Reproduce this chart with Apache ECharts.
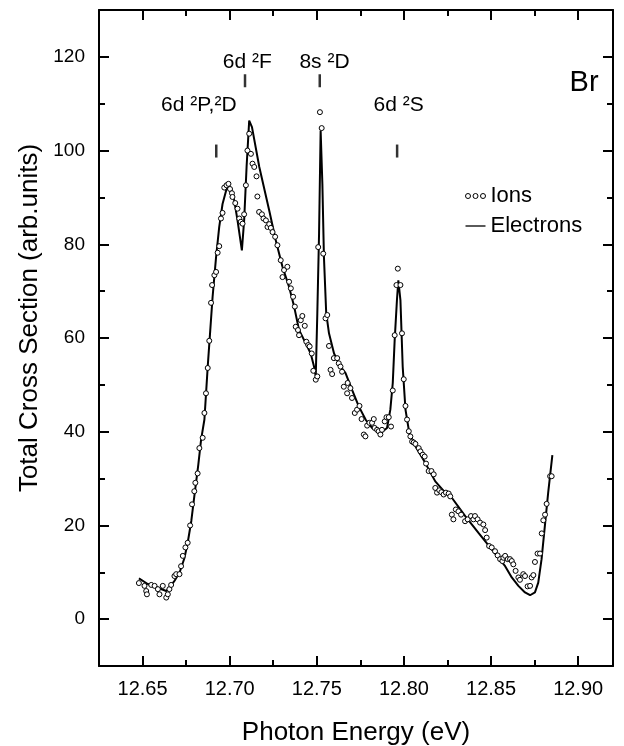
<!DOCTYPE html>
<html><head><meta charset="utf-8">
<script src="https://cdn.jsdelivr.net/npm/echarts@6/dist/echarts.min.js"></script>
<style>html,body{margin:0;padding:0;background:#fff}#c{width:624px;height:746px}</style>
</head><body><div id="c"></div>
<script>
// ---- Data ----
const electronsX = [12.6479,12.6530,12.6580,12.6636,12.6680,12.6712,12.6740,12.6759,12.6780,12.6797,12.6820,12.6836,12.6855,12.6874,12.6902,12.6922,12.6940,12.6959,12.6982,12.7007,12.7026,12.7045,12.7070,12.7083,12.7097,12.7112,12.7128,12.7170,12.7227,12.7264,12.7303,12.7341,12.7370,12.7398,12.7436,12.7465,12.7484,12.7494,12.7503,12.7513,12.7522,12.7532,12.7541,12.7554,12.7570,12.7599,12.7637,12.7665,12.7703,12.7741,12.7780,12.7817,12.7865,12.7903,12.7922,12.7936,12.7947,12.7960,12.7968,12.7980,12.7993,12.8009,12.8031,12.8066,12.8123,12.8180,12.8237,12.8275,12.8352,12.8428,12.8504,12.8581,12.8619,12.8657,12.8695,12.8724,12.8752,12.8771,12.8790,12.8809,12.8828,12.8852];
const electronsY = [8.7,7.5,6.8,6.0,8.0,9.9,13.0,16.3,21.0,26.2,33.0,38.3,42.6,53.9,68.8,77.3,83.7,88.6,91.8,91.8,89.4,85.1,78.7,85.1,96.5,106.4,105.0,96.5,87.2,80.9,75.2,70.9,66.7,61.7,58.9,56.7,53.9,51.8,65.3,82.3,104.3,92.9,77.3,65.3,61.0,56.7,53.9,52.5,48.9,45.4,42.6,40.8,39.7,40.8,44.7,50.4,59.6,68.1,72.3,68.1,53.9,44.7,39.7,36.9,33.3,29.4,27.0,25.9,22.0,18.4,14.9,11.3,8.9,7.1,5.7,5.1,5.7,7.8,12.8,19.9,27.0,35.0];

const ionsX = [12.6479,12.6511,12.6521,12.6525,12.6550,12.6569,12.6588,12.6597,12.6616,12.6636,12.6645,12.6654,12.6664,12.6683,12.6693,12.6712,12.6721,12.6731,12.6746,12.6759,12.6773,12.6784,12.6797,12.6803,12.6816,12.6826,12.6845,
12.6855,12.6864,12.6874,12.6883,12.6893,12.6899,12.6912,12.6922,12.6931,12.6940,12.6950,12.6959,12.6969,12.6982,12.6993,12.7002,12.7013,12.7016,12.7032,12.7045,12.7055,12.7064,12.7074,12.7083,12.7093,12.7102,12.7112,12.7122,12.7131,12.7141,12.7154,12.7159,12.7169,12.7185,12.7194,12.7208,12.7217,12.7227,12.7236,12.7246,12.7261,12.7274,
12.7293,12.7303,12.7312,12.7331,12.7341,12.7351,12.7364,12.7374,12.7379,12.7392,12.7398,12.7408,12.7417,12.7431,12.7440,12.7451,12.7459,12.7471,12.7480,12.7494,12.7503,12.7508,12.7518,12.7528,12.7537,12.7550,12.7560,12.7570,12.7579,12.7588,12.7598,12.7617,12.7626,12.7636,12.7645,12.7655,12.7674,12.7677,12.7693,12.7702,12.7718,12.7731,
12.7745,12.7757,12.7770,12.7779,12.7789,12.7802,12.7817,12.7827,12.7832,12.7846,12.7855,12.7865,12.7874,12.7890,12.7900,12.7913,12.7926,12.7936,12.7947,12.7957,12.7965,12.7980,12.7989,12.7999,12.8009,12.8018,12.8028,12.8037,12.8047,12.8056,12.8066,12.8085,12.8095,12.8108,12.8119,12.8127,12.8142,12.8158,12.8171,12.8180,12.8190,12.8203,12.8215,12.8228,12.8241,12.8257,12.8266,
12.8275,12.8284,12.8298,12.8313,12.8328,12.8351,12.8366,12.8385,12.8399,12.8408,12.8423,12.8437,12.8456,12.8466,12.8475,12.8489,12.8504,12.8523,12.8538,12.8552,12.8565,12.8571,12.8581,12.8596,12.8609,12.8619,12.8628,12.8641,12.8657,12.8666,12.8685,12.8695,12.8710,12.8724,12.8733,12.8743,12.8752,12.8767,12.8781,12.8791,12.8800,12.8810,12.8819,12.8839,12.8848];
const ionsY = [7.7,7.1,6.0,5.3,7.3,7.1,6.4,5.3,7.1,4.6,5.3,6.4,7.3,9.2,9.6,9.6,11.3,13.5,15.3,16.3,20.0,24.5,27.3,29.1,31.1,36.5,38.7,
44.0,48.2,53.6,59.4,67.5,71.3,73.4,74.1,78.2,79.6,85.5,86.7,92.1,92.6,92.9,91.8,90.9,90.1,88.8,87.6,85.5,84.8,84.4,86.4,92.6,100.0,103.6,99.3,97.2,96.5,94.5,90.2,86.9,86.4,85.5,85.1,83.7,84.3,83.5,82.6,81.6,79.8,
76.6,73.0,74.5,75.2,72.0,70.6,68.8,66.7,62.4,61.7,60.6,63.8,64.7,62.6,59.2,58.5,58.2,56.7,53.0,51.1,51.8,79.4,108.2,104.8,78.0,64.2,64.9,58.3,53.2,52.3,55.7,55.7,54.6,53.9,52.8,49.6,48.2,50.4,49.3,47.2,44.0,44.7,
45.5,42.7,39.4,39.0,41.3,41.9,41.9,42.7,40.8,40.4,40.1,39.4,40.4,42.2,43.1,43.1,41.1,48.8,60.6,71.3,74.8,71.3,61.0,51.2,45.5,42.6,40.1,39.0,37.9,37.7,37.4,36.5,35.8,35.1,34.7,33.2,31.6,31.6,30.9,28.0,27.0,27.5,27.1,26.6,27.0,26.8,26.2,
22.3,21.3,23.4,23.0,22.3,20.9,21.3,22.0,21.3,22.0,21.3,20.6,20.2,19.0,17.4,15.6,15.3,14.5,13.6,12.8,12.4,13.1,13.5,12.8,12.8,12.4,11.7,10.3,8.9,8.4,9.6,9.2,7.0,7.1,8.9,9.4,12.2,14.0,14.0,18.3,21.1,22.3,24.6,30.5,30.5];

const xTickLabels = [12.65, 12.70, 12.75, 12.80, 12.85, 12.90];
const xMinorTicks = [12.675, 12.725, 12.775, 12.825, 12.875];
const yTickLabels = [0, 20, 40, 60, 80, 100, 120];
const yMinorTicks = [10, 30, 50, 70, 90, 110];

const annotationNames = ['6d \u00B2P,\u00B2D', '6d \u00B2F', '8s \u00B2D', '6d \u00B2S'];
const annotationLabelX = [12.6823, 12.7101, 12.7544, 12.7970];
const annotationLabelY = [109.6, 118.9, 118.9, 109.6];
const annotationMarkX = [12.6923, 12.7088, 12.7517, 12.7961];
const annotationMarkY = [99.9, 114.9, 114.9, 99.9];
const elementNames = ['Br'];
const elementX = [12.9034];
const elementY = [114.4];

// ---- Chart ----
const FONT = "'Liberation Sans', Arial, Helvetica, sans-serif";
const X_MIN = 12.625, X_MAX = 12.92, Y_MIN = -10, Y_MAX = 130;
const zip = (a, b) => a.map((v, i) => [v, b[i]]);

function xAxisDef(position, ticks, len, withLabels) {
  const ax = {
    type: 'value', position, min: X_MIN, max: X_MAX, gridIndex: 0,
    axisLine: { show: withLabels, onZero: false, lineStyle: { color: '#000', width: 2 } },
    axisTick: { show: true, inside: true, length: len, customValues: ticks, lineStyle: { color: '#000', width: 2 } },
    axisLabel: { show: false },
    splitLine: { show: false }
  };
  if (withLabels && position === 'bottom') {
    ax.axisLabel = { show: true, customValues: xTickLabels, formatter: v => Number(v).toFixed(2),
      fontSize: 20, color: '#000', fontFamily: FONT, margin: 13 };
    ax.name = 'Photon Energy (eV)';
    ax.nameLocation = 'middle';
    ax.nameGap = 54;
    ax.nameTextStyle = { fontSize: 26, color: '#000', fontFamily: FONT };
  }
  return ax;
}
function yAxisDef(position, ticks, len, withLabels) {
  const ax = {
    type: 'value', position, min: Y_MIN, max: Y_MAX, gridIndex: 0,
    axisLine: { show: withLabels, onZero: false, lineStyle: { color: '#000', width: 2 } },
    axisTick: { show: true, inside: true, length: len, customValues: ticks, lineStyle: { color: '#000', width: 2 } },
    axisLabel: { show: false },
    splitLine: { show: false }
  };
  if (withLabels && position === 'left') {
    ax.axisLabel = { show: true, customValues: yTickLabels, fontSize: 19, color: '#000', fontFamily: FONT, margin: 14 };
    ax.name = 'Total Cross Section (arb.units)';
    ax.nameLocation = 'middle';
    ax.nameGap = 52;
    ax.nameRotate = 90;
    ax.nameTextStyle = { fontSize: 26, color: '#000', fontFamily: FONT, padding: [0, 0, 0, 40] };
  }
  return ax;
}

function textItem(names, size) {
  return function (params, api) {
    const p = api.coord([api.value(0), api.value(1)]);
    return {
      type: 'text', x: p[0], y: p[1],
      style: { text: names[params.dataIndex], fill: '#000', fontSize: size, fontFamily: FONT,
               align: 'center', verticalAlign: 'middle' }
    };
  };
}

const chart = echarts.init(document.getElementById('c'), null, { renderer: 'canvas' });
const option = {
  backgroundColor: '#fff',
  animation: false,
  grid: { left: 99, right: 11, top: 10, bottom: 80, containLabel: false, outerBoundsMode: 'none' },
  xAxis: [
    xAxisDef('bottom', xTickLabels, 10, true),
    xAxisDef('bottom', xMinorTicks, 6, false),
    xAxisDef('top', xTickLabels, 10, true),
    xAxisDef('top', xMinorTicks, 6, false)
  ],
  yAxis: [
    yAxisDef('left', yTickLabels, 10, true),
    yAxisDef('left', yMinorTicks, 6, false),
    yAxisDef('right', yTickLabels, 10, true),
    yAxisDef('right', yMinorTicks, 6, false)
  ],
  legend: {
    orient: 'vertical', left: 460, top: 180, itemGap: 8, itemWidth: 20, itemHeight: 8,
    textStyle: { fontSize: 22, color: '#000', fontFamily: FONT },
    data: [
      { name: 'Ions', icon: 'path://M0.5,2.5a2,2 0 1,0 4,0a2,2 0 1,0 -4,0M6.5,2.5a2,2 0 1,0 4,0a2,2 0 1,0 -4,0M12.5,2.5a2,2 0 1,0 4,0a2,2 0 1,0 -4,0',
        itemStyle: { color: '#fff', borderColor: '#000', borderWidth: 1 } },
      { name: 'Electrons', icon: 'path://M0,0H20V1.3H0Z', itemStyle: { color: '#000' } }
    ]
  },
  series: [
    {
      name: 'Electrons', type: 'line', xAxisIndex: 0, yAxisIndex: 0,
      data: zip(electronsX, electronsY), symbol: 'none', smooth: false,
      lineStyle: { color: '#000', width: 2 }, itemStyle: { color: '#000' }, z: 2
    },
    {
      name: 'Ions', type: 'scatter', xAxisIndex: 0, yAxisIndex: 0,
      data: zip(ionsX, ionsY), symbol: 'circle', symbolSize: 5,
      itemStyle: { color: '#fff', borderColor: '#000', borderWidth: 1, opacity: 1 }, z: 3
    },
    {
      name: 'marks', type: 'scatter', xAxisIndex: 0, yAxisIndex: 0, silent: true,
      data: zip(annotationMarkX, annotationMarkY), symbol: 'rect', symbolSize: [2.5, 13],
      itemStyle: { color: '#000' }, z: 4
    },
    {
      name: 'labels', type: 'custom', xAxisIndex: 0, yAxisIndex: 0, silent: true,
      data: zip(annotationLabelX, annotationLabelY),
      renderItem: textItem(annotationNames, 21), z: 5
    },
    {
      name: 'element', type: 'custom', xAxisIndex: 0, yAxisIndex: 0, silent: true,
      data: zip(elementX, elementY),
      renderItem: textItem(elementNames, 29), z: 5
    }
  ]
};
chart.setOption(option);
</script>
</body></html>
